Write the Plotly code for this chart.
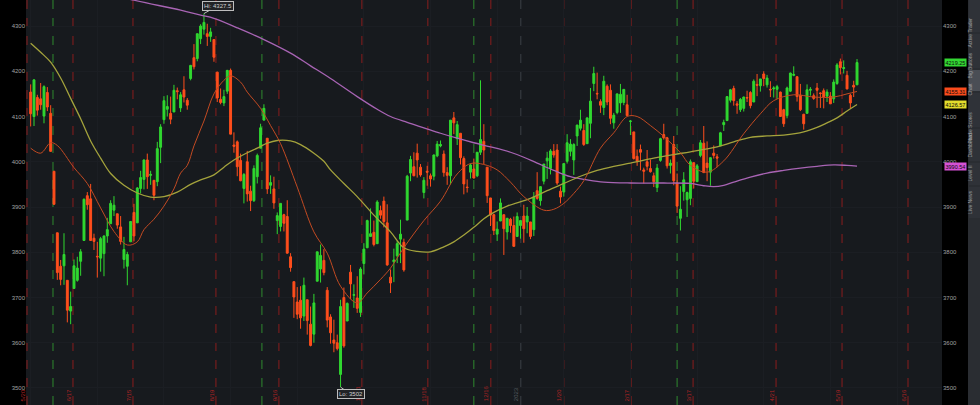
import plotly.graph_objects as go
import pandas as pd

# ---------------- data ----------------
holidays = ["2022-06-20", "2022-07-04", "2022-09-05", "2022-11-24", "2022-12-26",
            "2023-01-02", "2023-01-16", "2023-02-20", "2023-04-07", "2023-05-29"]
dates = pd.bdate_range("2022-06-01", "2023-05-26", freq="C", holidays=holidays)

opens = [
    4154,4100,4142,4139,4101,4153,4107,3979,3843,3769,3770,3738,3670,3720,3738,3780,3826,3925,3918,3831,3791,
    3787,3797,3836,3863,3893,3885,3856,3784,3769,3823,3888,3865,3941,3961,4004,3970,3959,3956,4032,4093,
    4116,4107,4110,4157,4119,4159,4136,4184,4230,4228,4272,4293,4283,4277,4270,4198,4138,4130,4156,4202,4037,4044,4003,
    3941,4000,3935,3914,3967,4030,4092,4052,3948,3940,3870,3857,3883,3879,3790,3735,3690,3694,3659,3695,3641,
    3619,3736,3763,3782,3716,3657,3606,3600,3530,3700,3648,3756,3705,3699,3667,3775,3810,3835,3844,3819,3892,
    3913,3865,3745,3779,3792,3829,3822,3871,3975,3989,4019,3988,3932,3979,3969,3968,4013,4035,4017,3976,3969,
    4097,4051,4063,4007,3944,3977,3984,3969,4021,4045,3988,3920,3883,3840,3869,3883,3845,3873,3859,3835,3859,
    3880,3867,3867,3850,3936,3914,3957,4002,3985,4023,4026,3935,3933,4001,4023,4004,4057,4074,4069,4040,
    4085,4173,4151,4133,4120,4167,4158,4086,4109,4130,4131,4126,4089,4066,4012,4027,3982,4000,3985,
    3969,3943,4003,4060,4053,3992,4038,3953,3875,3934,3916,3919,3998,3956,4014,4041,3997,3977,4019,4011,4035,4082,4091,
    4136,4162,4128,4115,4118,4142,4153,4132,4171,4168,4194,4170,4160,4161,4160,4154,4115,4102,4156,
    4191,4188,4147,4105,4107,4158,4146,4163,4152,4157,4145,4145,4139,4173,4221,4206,4191,4147,4169,4170]
highs = [
    4171,4182,4148,4174,4169,4165,4125,3979,3843,3783,3842,3738,3713,3784,3790,3807,3919,3933,3951,3841,3823,
    3834,3837,3876,3915,3924,3885,3880,3834,3801,3869,3907,3944,3980,4005,4018,3980,3959,4044,4083,4145,
    4147,4144,4170,4164,4154,4189,4141,4214,4260,4283,4304,4327.5,4305,4296,4270,4199,4162,4159,4203,4206,4065,4047,4018,
    3975,4024,3947,3992,4018,4084,4127,4052,3970,3967,3888,3908,3885,3915,3798,3735,3723,3725,3744,3695,3680,
    3708,3801,3817,3807,3723,3663,3651,3618,3695,3722,3689,3772,3729,3747,3767,3820,3872,3897,3870,3915,3903,
    3923,3906,3762,3808,3825,3872,3830,3971,4013,4021,4040,3995,3966,3991,3974,4016,4046,4047,4025,3988,4092,
    4110,4090,4063,4012,3961,3996,4007,4021,4180,4083,3988,3920,3885,3868,3919,3883,3876,3876,3879,3888,3870,
    3905,3900,3867,3933,3977,3946,3995,4022,4028,4039,4039,3945,3996,4061,4050,4041,4082,4115,4083,4097,
    4163,4210,4197,4138,4190,4171,4171,4108,4151,4172,4160,4148,4092,4066,4027,4038,3987,4026,4005,
    3976,3995,4053,4084,4055,4005,4057,3974,3946,3977,3934,4005,3998,3995,4048,4079,4045,4010,4036,4017,4066,4093,4145,
    4161,4168,4134,4141,4144,4157,4156,4182,4194,4183,4200,4192,4178,4167,4170,4155,4117,4166,4197,
    4211,4188,4172,4106,4171,4165,4151,4174,4153,4162,4160,4154,4182,4218,4228,4224,4201,4150,4179,4227]
lows = [
    4078,4079,4102,4115,4085,4112,4022,3905,3739,3727,3728,3645,3641,3720,3735,3748,3826,3894,3825,3805,3744,
    3757,3747,3821,3863,3880,3852,3817,3764,3727,3823,3824,3865,3930,3939,3940,3949,3915,3946,3997,4084,
    4100,4083,4110,4138,4110,4131,4115,4180,4204,4222,4260,4281,4256,4265,4221,4132,4127,4123,4150,4061,4020,3968,3957,
    3908,3912,3891,3911,3952,4030,4092,3929,3929,3896,3840,3846,3846,3797,3757,3655,3652,3631,3648,3618,3592,
    3600,3736,3733,3749,3634,3598,3579,3583,3502,3589,3648,3696,3677,3666,3657,3751,3809,3835,3813,3818,3874,
    3855,3770,3710,3734,3776,3776,3757,3871,3957,3968,3965,3967,3919,3947,3945,3959,4010,4032,3967,3949,3950,
    4061,4037,3994,3928,3932,3963,3963,3966,4015,3995,3909,3858,3838,3825,3869,3794,3828,3843,3813,3835,3830,
    3821,3842,3829,3836,3916,3903,3950,3962,3972,4009,3949,3908,3923,3996,4012,3971,4035,4069,4035,4040,
    4052,4156,4138,4108,4103,4125,4083,4073,4105,4108,4125,4101,4059,4005,3991,3981,3952,3981,3976,
    3944,3933,4000,4049,3985,3974,3948,3887,3848,3914,3878,3904,3941,3956,4010,3975,3957,3947,4007,3988,4035,4068,4091,
    4131,4124,4106,4110,4111,4132,4118,4132,4145,4155,4167,4164,4143,4142,4139,4099,4077,4096,4154,
    4189,4133,4112,4071,4107,4146,4137,4119,4119,4118,4132,4128,4130,4170,4193,4195,4160,4118,4143,4170]
closes = [
    4106,4181,4114,4126,4166,4121,4023,3906,3755,3740,3795,3672,3680,3770,3765,3801,3917,3905,3826,3824,3790,
    3830,3836,3850,3908,3904,3860,3824,3806,3795,3868,3836,3942,3965,4004,3967,3972,3926,4029,4077,4135,
    4122,4094,4158,4155,4148,4143,4125,4213,4210,4283,4300,4308,4277,4287,4231,4141,4131,4144,4202,4061,4034,3989,3958,
    3972,3929,3914,3985,4014,4075,4118,3940,3954,3909,3881,3908,3864,3798,3766,3701,3663,3655,3727,3649,3594,
    3688,3801,3793,3755,3650,3622,3599,3587,3680,3593,3687,3730,3706,3676,3763,3807,3870,3841,3817,3911,3882,
    3868,3772,3732,3783,3819,3840,3761,3968,4005,3969,4004,3971,3959,3977,3962,4015,4039,4038,3976,3970,4092,
    4086,4082,4009,3951,3943,3993,3964,4021,4049,4026,3925,3882,3848,3851,3909,3852,3875,3859,3813,3879,3870,
    3852,3880,3835,3922,3919,3945,3995,4008,4024,4015,3953,3922,3996,4042,4039,4038,4081,4092,4038,4097,
    4134,4195,4150,4125,4178,4132,4096,4103,4150,4149,4160,4102,4090,4007,4001,4021,3979,3990,3978,
    3956,3986,4051,4053,3991,3997,3958,3902,3895,3960,3932,4000,3957,3991,4042,3976,3987,4009,4014,4008,4064,4087,4144,
    4159,4135,4125,4138,4143,4141,4124,4178,4169,4183,4184,4185,4159,4163,4166,4100,4084,4163,4196,
    4193,4144,4115,4084,4159,4160,4140,4158,4151,4143,4154,4128,4176,4214,4208,4208,4161,4130,4165,4219.25]

# moving averages (trading-day number, value)
sma20_day = [0,3,6,8,13,17,21,25,29,32,34,37,40,43,45,47,49,52,55,58,60,63,65,69,72,75,80,85,89,93,98,101,105,108,
             112,118,123,128,132,136,140,144,148,154,157,160,163,166,171,175,179,182,186,190,195,198,203,208,214,
             219,223,229,235,241,245,248]
sma20_val = [4030,4019,4042,4036,3987,3952,3898,3846,3816,3823,3850,3873,3902,3940,3975,3992,4035,4090,4150,4180,
             4190,4176,4154,4118,4080,4040,3944,3845,3798,3725,3688,3710,3740,3765,3810,3870,3913,3973,3996,3994,
             3982,3955,3923,3893,3895,3908,3930,3958,4030,4064,4100,4100,4080,4056,4020,3992,3977,4002,4062,4106,
             4135,4148,4143,4143,4150,4155.31]
sma50_day = [0,3,6,9,12,15,18,21,24,28,32,36,40,44,48,51,55,58,61,65,68,71,74,78,81,85,88,90,94,98,103,108,112,
             116,120,124,127,130,133,136,139,143,150,155,160,165,170,175,180,187,193,198,206,211,216,221,226,232,
             236,239,242,245,248]
sma50_val = [4262,4242,4220,4185,4140,4095,4046,4008,3974,3948,3931,3922,3923,3933,3950,3960,3971,3988,4004,4020,
             4030,4041,4047,4046,4038,4019,4001,3982,3952,3923,3882,3845,3810,3802,3801,3812,3823,3838,3855,3874,
             3888,3902,3919,3936,3952,3968,3981,3990,3997,4008,4016,4022,4033,4044,4054,4057,4059,4066,4076,4086,
             4097,4112,4126.57]
sma200_day = [0,15,31,45,51,55,62,70,78,84,90,98,104,108,113,118,123,128,133,138,144,148,152,157,162,167,172,180,
              190,198,202,205,208,211,216,221,226,231,236,241,245,248]
sma200_val = [4415,4385,4357,4335,4324,4317,4296,4270,4240,4212,4184,4144,4116,4100,4087,4075,4063,4052,4042,4033,
              4021,4010,3997,3981,3967,3960,3955,3953,3953,3952,3947,3945,3948,3955,3966,3975,3981,3986,3990,3993,
              3992,3990.54]

# event markers (trading-day numbers)
expiry_days = [-1.1, 12.7, 30.7, 55.6, 74.5, 99.4, 119.2, 138.1, 160.0, 180.2, 198.8, 223.7, 243.5, 263.3]
expiry_labels = ["5/20", "6/17", "7/15", "8/19", "9/16", "10/21", "11/18", "12/16", "1/20", "2/17", "3/17",
                 "4/21", "5/19", "6/16"]
roll_days = [6.7, 69.4, 133.0, 194.0]
year_day = [147.1]
year_label = ["2023"]

y_ticks = [3500, 3600, 3700, 3800, 3900, 4000, 4100, 4200, 4300]
side_tabs = ["Active Trader", "Big Buttons", "Chart", "Phase Scores", "Dashboard", "Level II", "Live News"]

# ---------------- figure ----------------
W, H = 980, 405
day = list(range(len(dates)))
n = min(len(day), len(opens), len(highs), len(lows), len(closes))
day = day[:n]

GREEN = "#30d830"
RED = "#ff4e1c"
BG = "#171a1e"

fig = go.Figure()
fig.add_trace(go.Candlestick(
    x=day, open=opens[:n], high=highs[:n], low=lows[:n], close=closes[:n],
    text=[d.strftime("%Y-%m-%d") for d in dates[:n]],
    increasing=dict(line=dict(color=GREEN, width=1), fillcolor=GREEN),
    decreasing=dict(line=dict(color=RED, width=1), fillcolor=RED),
    whiskerwidth=0, showlegend=False, name="ES"))

fig.add_trace(go.Scatter(x=sma200_day, y=sma200_val, mode="lines",
                         line=dict(color="#a864b4", width=1.3, shape="spline"), showlegend=False))
fig.add_trace(go.Scatter(x=sma50_day, y=sma50_val, mode="lines",
                         line=dict(color="#a4a33c", width=1.3, shape="spline"), showlegend=False))
fig.add_trace(go.Scatter(x=sma20_day, y=sma20_val, mode="lines",
                         line=dict(color="#c24a22", width=1, shape="spline"), showlegend=False))
# right-hand price axis
fig.add_trace(go.Scatter(x=[day[0]], y=[closes[0]], yaxis="y2", mode="markers",
                         marker=dict(opacity=0), hoverinfo="skip", showlegend=False))

shapes = []
for xv in expiry_days:
    shapes.append(dict(type="line", xref="x", yref="paper", x0=xv, x1=xv, y0=0, y1=1, layer="below",
                       line=dict(color="#8a1d1d", width=1, dash="dash")))
for xv in roll_days:
    shapes.append(dict(type="line", xref="x", yref="paper", x0=xv, x1=xv, y0=0, y1=1, layer="below",
                       line=dict(color="#2f8a2f", width=1, dash="dash")))
for xv in year_day:
    shapes.append(dict(type="line", xref="x", yref="paper", x0=xv, x1=xv, y0=0, y1=1, layer="below",
                       line=dict(color="#3c4046", width=1, dash="dash")))
# side panel
shapes.append(dict(type="rect", xref="paper", yref="paper", x0=968 / W, x1=1, y0=0, y1=1,
                   fillcolor="#2a2d32", line=dict(width=0)))

annotations = []
FONT = "Liberation Sans, Arial, sans-serif"
for xv, lab in zip(expiry_days, expiry_labels):
    annotations.append(dict(x=xv, y=0.004, xref="x", yref="paper", text=lab, showarrow=False, textangle=-90,
                            xanchor="right", yanchor="bottom", xshift=1, font=dict(size=6, color="#b02424",
                            family=FONT)))
for xv, lab in zip(year_day, year_label):
    annotations.append(dict(x=xv, y=0.004, xref="x", yref="paper", text=lab, showarrow=False, textangle=-90,
                            xanchor="right", yanchor="bottom", xshift=1, font=dict(size=6, color="#555a60",
                            family=FONT)))

hi_i = max(range(n), key=lambda i: highs[i])
lo_i = min(range(n), key=lambda i: lows[i])
annotations.append(dict(x=hi_i, y=highs[hi_i], xref="x", yref="y", text=f"Hi: {highs[hi_i]:g}",
                        showarrow=True, arrowhead=0, arrowwidth=1, arrowcolor="#bbbbbb", ax=14, ay=-8,
                        bgcolor="#222326", bordercolor="#bdbdbd", borderwidth=1, borderpad=1,
                        font=dict(size=6, color="#d0d0d0", family=FONT)))
annotations.append(dict(x=lo_i, y=lows[lo_i], xref="x", yref="y", text=f"Lo: {lows[lo_i]:g}",
                        showarrow=True, arrowhead=0, arrowwidth=1, arrowcolor="#bbbbbb", ax=10, ay=7,
                        bgcolor="#222326", bordercolor="#bdbdbd", borderwidth=1, borderpad=1,
                        font=dict(size=6, color="#d0d0d0", family=FONT)))

# last-value flags on the right axis
flags = [(closes[n - 1], "#33d633", "#0b0b0b"), (sma20_val[-1], "#fa4b1c", "#0b0b0b"),
         (sma50_val[-1], "#e2dc2c", "#0b0b0b"), (sma200_val[-1], "#d551d5", "#0b0b0b")]
for val, bg, fc in flags:
    annotations.append(dict(x=944 / W, y=val, xref="paper", yref="y", text=f"{val:.2f}", showarrow=False,
                            xanchor="left", yanchor="middle", bgcolor=bg, borderpad=0.5,
                            font=dict(size=5.5, color=fc, family=FONT)))

# side tab strip (top/bottom edges of each tab, in pixels from the top)
tab_edges = [(0, 32), (34, 68), (70, 91), (93, 127), (129, 161), (163, 185), (187, 218)]
for lab, (t0, t1) in zip(side_tabs, tab_edges):
    shapes.append(dict(type="rect", xref="paper", yref="paper", x0=969 / W, x1=1,
                       y0=1 - t1 / H, y1=1 - t0 / H,
                       fillcolor="#4a4e55" if lab == "Chart" else "#2f3238", line=dict(width=0)))
    annotations.append(dict(x=974.5 / W, y=1 - (t0 + t1) / 2 / H, xref="paper", yref="paper", text=lab,
                            showarrow=False, textangle=-90,
                            font=dict(size=5, color="#a0a2a6", family=FONT)))

y_range = [3462.4, 4357.5]
fig.update_layout(
    width=W, height=H, margin=dict(l=0, r=0, t=0, b=0),
    paper_bgcolor="#000000", plot_bgcolor=BG,
    font=dict(family=FONT),
    shapes=shapes, annotations=annotations,
    boxgap=0.18,
    xaxis=dict(domain=[26 / W, 942 / W], range=[-1.4, 273.5], showgrid=True, gridcolor="#1b1e23",
               dtick=20, zeroline=False, showticklabels=False, rangeslider=dict(visible=False),
               fixedrange=True),
    yaxis=dict(range=y_range, tickvals=y_ticks, showgrid=True, gridcolor="#1b1e23", zeroline=False,
               tickfont=dict(size=6, color="#a0a0a0"), ticks="", automargin=False, side="left"),
    yaxis2=dict(range=y_range, tickvals=y_ticks, overlaying="y", side="right", anchor="x",
                showgrid=False, zeroline=False, tickfont=dict(size=6, color="#a0a0a0"), ticks="",
                automargin=False),
    hovermode=False,
)

fig.write_html("out.html", config={"displayModeBar": False, "staticPlot": True},
               post_script="document.body.style.margin='0';document.body.style.padding='0';"
                           "document.body.style.overflow='hidden';document.body.style.background='#000';")
